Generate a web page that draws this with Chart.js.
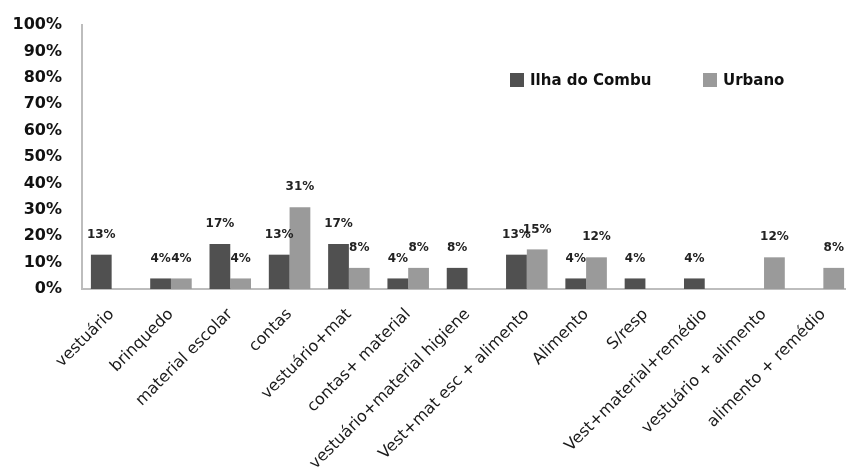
<!DOCTYPE html>
<html>
<head>
<meta charset="utf-8">
<script src="https://cdn.jsdelivr.net/npm/chart.js@4"></script>
<style>
  html, body { margin: 0; padding: 0; background: #fff; overflow: hidden; }
  #wrap { width: 853px; height: 474px; }
</style>
</head>
<body>
<div id="wrap"><canvas id="myChart" width="853" height="474"></canvas></div>
<script>
var categories = [
  'vestuário', 'brinquedo', 'material escolar', 'contas', 'vestuário+mat',
  'contas+ material', 'vestuário+material higiene', 'Vest+mat esc + alimento',
  'Alimento', 'S/resp', 'Vest+material+remédio', 'vestuário + alimento',
  'alimento + remédio'
];
var ilhaDoCombu = [13, 4, 17, 13, 17, 4, 8, 13, 4, 4, 4, null, null];
var urbano = [null, 4, 4, 31, 8, 8, null, 15, 12, null, null, 12, 8];
var yTicks = [0, 10, 20, 30, 40, 50, 60, 70, 80, 90, 100];

var darkGray = '#505050';
var lightGray = '#9a9a9a';

// value labels above bars
var barLabels = {
  id: 'barLabels',
  afterDatasetsDraw: function(chart) {
    var ctx = chart.ctx;
    ctx.save();
    ctx.font = 'bold 12px "DejaVu Sans"';
    ctx.fillStyle = '#222';
    ctx.textAlign = 'center';
    ctx.textBaseline = 'middle';
    chart.data.datasets.forEach(function(ds, i) {
      chart.getDatasetMeta(i).data.forEach(function(bar, j) {
        if (ds.data[j] == null) return;
        ctx.fillText(ds.data[j] + '%', bar.x, bar.y - 20);
      });
    });
    ctx.restore();
  }
};

// legend drawn inside the plot area
var innerLegend = {
  id: 'innerLegend',
  afterDraw: function(chart) {
    var ctx = chart.ctx;
    var items = [
      { text: 'Ilha do Combu', color: darkGray, x: 510 },
      { text: 'Urbano', color: lightGray, x: 703 }
    ];
    ctx.save();
    ctx.font = 'bold 15px "DejaVu Sans"';
    ctx.textBaseline = 'middle';
    items.forEach(function(it) {
      ctx.fillStyle = it.color;
      ctx.fillRect(it.x, 73, 14, 14);
      ctx.fillStyle = '#111';
      ctx.fillText(it.text, it.x + 20, 81);
    });
    ctx.restore();
  }
};

var ctx = document.getElementById('myChart').getContext('2d');
var myChart = new Chart(ctx, {
  type: 'bar',
  data: {
    labels: categories,
    datasets: [{
      label: 'Ilha do Combu',
      data: ilhaDoCombu,
      backgroundColor: darkGray,
      categoryPercentage: 0.7,
      barPercentage: 1.0
    }, {
      label: 'Urbano',
      data: urbano,
      backgroundColor: lightGray,
      categoryPercentage: 0.7,
      barPercentage: 1.0
    }]
  },
  options: {
    responsive: false,
    animation: false,
    layout: { padding: { top: 25, right: 0, left: 0, bottom: 0 } },
    plugins: {
      legend: { display: false },
      tooltip: { enabled: false }
    },
    scales: {
      x: {
        grid: { display: false, drawTicks: false },
        border: { color: '#bdbdbd', width: 2 },
        ticks: {
          minRotation: 45,
          maxRotation: 45,
          autoSkip: false,
          padding: 16,
          color: '#1a1a1a',
          font: { family: 'DejaVu Sans', size: 16 }
        },
        afterFit: function(scale) { scale.height = 185; }
      },
      y: {
        min: 0,
        max: 100,
        grid: { display: false, drawTicks: false },
        border: { color: '#bdbdbd', width: 2 },
        afterBuildTicks: function(scale) {
          scale.ticks = yTicks.map(function(v) { return { value: v }; });
        },
        ticks: {
          padding: 20,
          color: '#111',
          font: { family: 'DejaVu Sans', size: 16, weight: 'bold' },
          callback: function(v) { return v + '%'; }
        },
        afterFit: function(scale) {
          scale.width = 82;
          scale.paddingTop = 0;
          scale.paddingBottom = 0;
        }
      }
    }
  },
  plugins: [barLabels, innerLegend]
});
</script>
</body>
</html>
